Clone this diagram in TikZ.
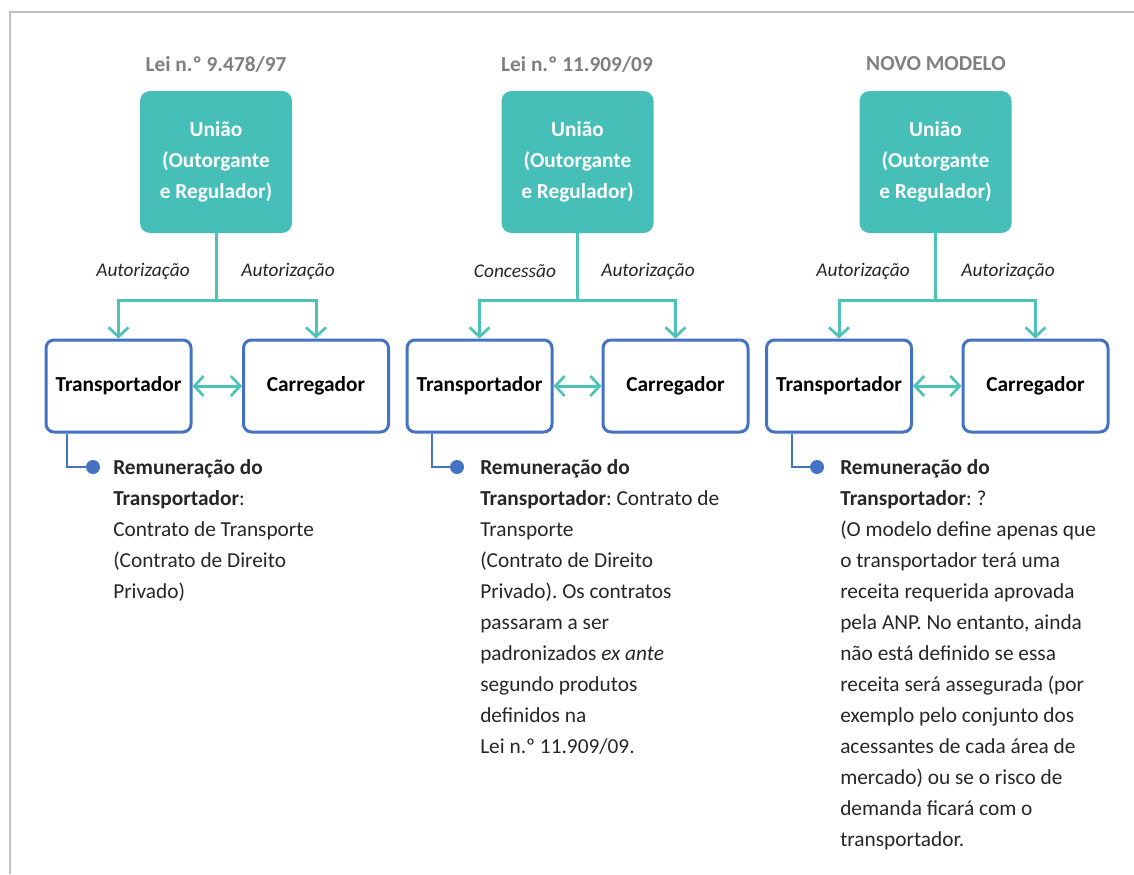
\documentclass[tikz,border=0pt]{standalone}
\usepackage{fontspec}
\setmainfont{Carlito}
\frenchspacing
\usetikzlibrary{arrows.meta}
\definecolor{tealbox}{HTML}{45BFB8}
\definecolor{tealline}{HTML}{4CC2B9}
\definecolor{bluebox}{HTML}{4472C4}
\definecolor{titlegray}{HTML}{7F7F7F}
\definecolor{framegray}{HTML}{C0C0C0}
\definecolor{bodytext}{HTML}{262626}
\tikzset{
  lawtitle/.style={font=\bfseries\fontsize{16}{19}\selectfont, text=titlegray},
  uniao/.style={fill=tealbox, rounded corners=7.5pt, minimum width=114pt, minimum height=106.5pt,
    text=white, align=center, font=\bfseries\fontsize{16}{23.25}\selectfont},
  agent/.style={draw=bluebox, line width=2.25pt, rounded corners=6pt, fill=white,
    minimum width=108.75pt, minimum height=69pt, font=\bfseries\fontsize{16}{19}\selectfont},
  grant/.style={font=\itshape\fontsize{14.5}{17}\selectfont, text=bodytext},
  conn/.style={draw=tealline, line width=2.25pt},
  tip/.style={conn, -{Straight Barb[length=7pt, width=15pt, line width=2pt]}},
  dtip/.style={conn, {Straight Barb[length=7pt, width=15pt, line width=2pt]}-{Straight Barb[length=7pt, width=15pt, line width=2pt]}},
  pay/.style={draw=bluebox, line width=1.5pt},
  bullet/.style={circle, fill=bluebox, inner sep=0pt, minimum size=10.5pt},
  remark/.style={anchor=north west, inner sep=0pt, align=left, text=bodytext,
    font=\fontsize{16}{23.25}\selectfont}
}
\begin{document}
\begin{tikzpicture}[x=0.75pt, y=-0.75pt]
  \useasboundingbox (0,0) rectangle (1134,874);
  \draw[framegray, line width=1.5pt] (10,874) -- (10,12) -- (1134,12);

  % Lei 9.478/97
  \node[lawtitle] at (216,64) (l1) {Lei n.º 9.478/97};
  \node[uniao] at (216,162) (u1) {União\\(Outorgante\\e Regulador)};
  \node[agent] at (118.5,386) (t1) {Transportador};
  \node[agent] at (316,386) (c1) {Carregador};
  \coordinate (j1) at (216,300);
  \draw[conn] (u1.south) -- (j1);
  \draw[tip] (j1) -| (t1.north);
  \draw[tip] (j1) -| (c1.north);
  \draw[dtip] (t1.east) -- (c1.west);
  \node[grant] at (143,271) (g1) {Autorização};
  \node[grant] at (288,271) (h1) {Autorização};
  \node[bullet] at (93,467) (d1) {};
  \draw[pay] ([xshift=17pt]t1.south west) |- (d1);
  \node[remark] at (113,459) (r1) {\textbf{Remuneração do}\\\textbf{Transportador}:\\Contrato de Transporte\\(Contrato de Direito\\Privado)};

  % Lei 11.909/09
  \node[lawtitle] at (577,64) (l2) {Lei n.º 11.909/09};
  \node[uniao] at (577.5,162) (u2) {União\\(Outorgante\\e Regulador)};
  \node[agent] at (479.5,386) (t2) {Transportador};
  \node[agent] at (675.5,386) (c2) {Carregador};
  \coordinate (j2) at (577.5,300);
  \draw[conn] (u2.south) -- (j2);
  \draw[tip] (j2) -| (t2.north);
  \draw[tip] (j2) -| (c2.north);
  \draw[dtip] (t2.east) -- (c2.west);
  \node[grant] at (515,271) (g2) {Concessão};
  \node[grant] at (648,271) (h2) {Autorização};
  \node[bullet] at (457,467) (d2) {};
  \draw[pay] ([xshift=20pt]t2.south west) |- (d2);
  \node[remark] at (480,459) (r2) {\textbf{Remuneração do}\\\textbf{Transportador}: Contrato de\\Transporte\\(Contrato de Direito\\Privado). Os contratos\\passaram a ser\\padronizados \textit{ex ante}\\segundo produtos\\definidos na\\Lei n.º 11.909/09.};

  % Novo modelo
  \node[lawtitle] at (936,64) (l3) {NOVO MODELO};
  \node[uniao] at (935.5,162) (u3) {União\\(Outorgante\\e Regulador)};
  \node[agent] at (839,386) (t3) {Transportador};
  \node[agent] at (1035.5,386) (c3) {Carregador};
  \coordinate (j3) at (935.5,300);
  \draw[conn] (u3.south) -- (j3);
  \draw[tip] (j3) -| (t3.north);
  \draw[tip] (j3) -| (c3.north);
  \draw[dtip] (t3.east) -- (c3.west);
  \node[grant] at (863,271) (g3) {Autorização};
  \node[grant] at (1008,271) (h3) {Autorização};
  \node[bullet] at (817,467) (d3) {};
  \draw[pay] ([xshift=20pt]t3.south west) |- (d3);
  \node[remark] at (840,459) (r3) {\textbf{Remuneração do}\\\textbf{Transportador}: ?\\(O modelo define apenas que\\o transportador terá uma\\receita requerida aprovada\\pela ANP. No entanto, ainda\\não está definido se essa\\receita será assegurada (por\\exemplo pelo conjunto dos\\acessantes de cada área de\\mercado) ou se o risco de\\demanda ficará com o\\transportador.};
\end{tikzpicture}
\end{document}
